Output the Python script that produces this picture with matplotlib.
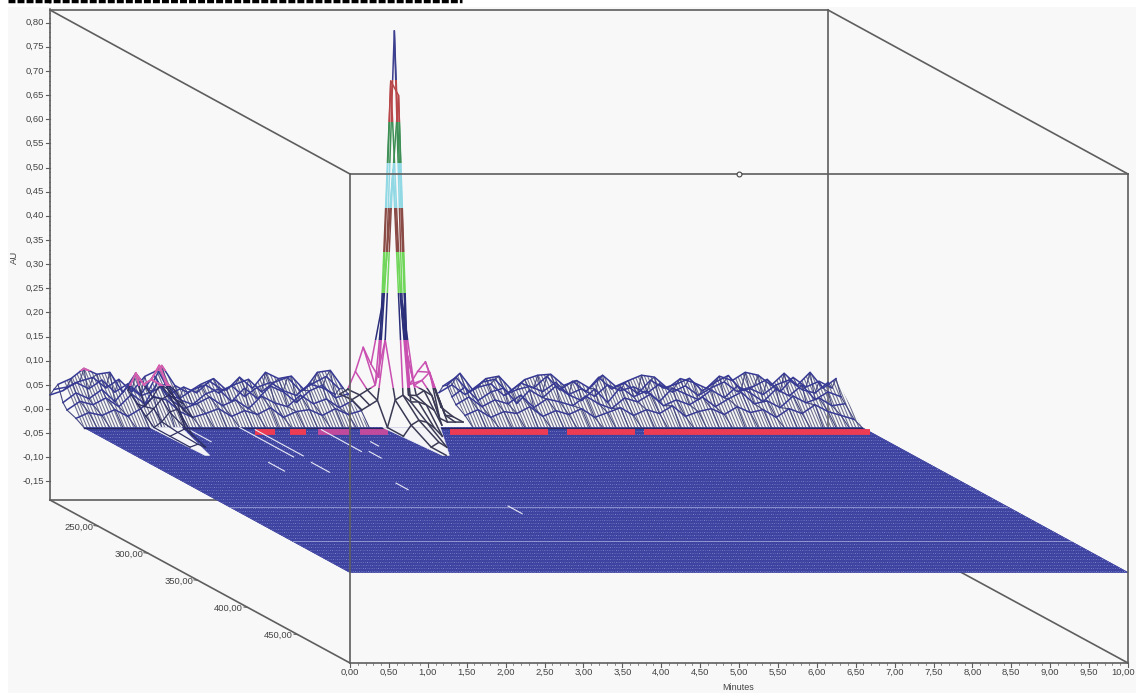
import numpy as np
import matplotlib
matplotlib.use("Agg")
import matplotlib.pyplot as plt
from matplotlib.patches import Rectangle, Polygon, PathPatch
from matplotlib.path import Path

plt.rcParams["font.family"] = ["Liberation Sans", "DejaVu Sans"]

nan = float("nan")

# axis ticks
au_ticks = [0.80, 0.75, 0.70, 0.65, 0.60, 0.55, 0.50, 0.45, 0.40, 0.35, 0.30, 0.25,
            0.20, 0.15, 0.10, 0.05, 0.00, -0.05, -0.10, -0.15]
wl_ticks = [250, 300, 350, 400, 450]
time_ticks = [0.5 * i for i in range(21)]

# noise rows of the surface, milli AU, one value per 1/6 min (gap at the main peak)
noise_wl = [202, 206, 210, 215, 219, 228, 236]
noise_times = [i / 6 for i in range(61)]
gap = [nan] * 7
noise_0 = [29, 38, 55, 42, 60, 35, 52, 30, 70, 28, 22, 40, 50, 33, 48, 26, 45, 55, 38, 28, 52, 44, 30] + gap + [
    34, 50, 30, 45, 52, 28, 40, 47, 36, 55, 30, 42, 26, 50, 38, 46, 32, 52, 35, 48,
    28, 44, 56, 36, 42, 30, 50, 60, 40, 33, 55]
noise_1 = [45, 50, 62, 70, 48, 66, 40, 72, 85, 36, 50, 38, 62, 44, 56, 66, 40, 60, 70, 42, 58, 72, 46] + gap + [
    52, 70, 40, 60, 66, 38, 58, 48, 72, 44, 62, 40, 70, 46, 58, 36, 64, 48, 56, 68,
    42, 60, 74, 44, 52, 66, 40, 70, 50, 62, 48]
noise_2 = [60, 72, 93, 81, 85, 43, 83, 48, 99, 58, 43, 60, 72, 48, 75, 52, 85, 72, 77, 48, 85, 89, 52] + gap + [
    58, 83, 48, 72, 77, 48, 70, 79, 81, 58, 68, 52, 79, 56, 68, 79, 75, 52, 72, 64,
    52, 77, 68, 85, 79, 58, 83, 58, 85, 52, 72]
noise_3 = [28, 48, 36, 55, 30, 62, 42, 52, 68, 34, 24, 46, 56, 30, 58, 36, 62, 50, 28, 52, 64, 38, 46] + gap + [
    40, 60, 32, 50, 58, 26, 54, 38, 62, 44, 32, 56, 28, 60, 40, 52, 30, 58, 46, 34,
    54, 38, 62, 48, 30, 56, 42, 64, 34, 50, 40]
noise_4 = [17, 35, 28, 42, 24, 50, 30, 75, 38, 20, 30, 44, 26, 38, 20, 46, 32, 24, 48, 30, 40, 22, 36] + gap + [
    28, 44, 24, 38, 30, 48, 22, 40, 34, 26, 46, 30, 20, 42, 34, 50, 26, 38, 28, 44,
    24, 40, 54, 30, 36, 22, 46, 32, 42, 26, 30]
noise_5 = [10, 22, 16, 28, 14, 30, 55, 48, 24, 12, 20, 30, 14, 26, 18, 32, 12, 24, 28, 16, 30, 18, 26] + gap + [
    16, 28, 12, 24, 20, 34, 14, 26, 18, 30, 12, 22, 32, 16, 28, 20, 36, 14, 24, 30,
    18, 34, 22, 28, 12, 30, 20, 38, 24, 16, 8]
noise_6 = [0] * 23 + gap + [0] * 31

# main peak, milli AU
peak_wl = [204, 216, 226, 236, 252, 272, 287]
peak_times = [3.7, 3.8, 3.9, 4.0, 4.1, 4.2, 4.3, 4.4, 4.5, 4.6, 4.7, 4.8, 4.9, 5.0]
peak_0 = [33, 43, 80, 130, 95, 68, 310, 785, 226, 53, 80, 100, 53, 6]
peak_1 = [35, 45, 55, 65, 240, 695, 665, 138, 65, 75, 92, 45, 3, 0]
peak_2 = [25, 35, 45, 170, 522, 253, 56, 55, 65, 55, 8, 0, 0, 0]
peak_3 = [nan, nan, 0, 57, 67, 53, 53, 47, 36, 5, nan, nan, nan, nan]
peak_4 = [nan, nan, 0, 23, 33, 29, 17, 0, nan, nan, nan, nan, nan, nan]
peak_5 = [nan, nan, nan, 0, 10, 0, nan, nan, nan, nan, nan, nan, nan, nan]
peak_6 = [nan, nan, nan, 0, nan, nan, nan, nan, nan, nan, nan, nan, nan, nan]

# small peak near one minute, milli AU
small_wl = [210, 219, 228, 236, 252, 272]
small_times = [0.9, 1.0, 1.1, 1.2, 1.3, 1.4, 1.5]
small_0 = [48, 83, 60, 70, 99, 62, 48]
small_1 = [30, 24, 44, 70, 60, 38, 30]
small_2 = [14, 30, 50, 58, 45, 24, 12]
small_3 = [0, 12, 32, 38, 0, nan, nan]
small_4 = [0, 8, 16, 0, nan, nan, nan]
small_5 = [0, 6, 0, nan, nan, nan, nan]

# pale wedges left on the floor by the peaks: (min, nm)
wedge_main = [(3.84, 236), (4.58, 236), (4.04, 287), (3.95, 287)]
wedge_small = [(0.85, 236), (1.25, 236), (0.96, 287), (0.90, 287)]

# pale streaks on the floor: (min, nm start, nm end)
streaks = [(2.0, 236, 290), (2.15, 240, 288), (1.3, 240, 262), (3.0, 240, 280), (3.35, 262, 270),
           (1.55, 300, 316), (2.1, 300, 318), (3.1, 280, 292), (2.7, 338, 350), (3.6, 380, 394)]
light_rows = [381, 445]

# red floor patches (min start, min end)
red_spans = [(2.1, 2.35), (2.54, 2.75), (4.6, 5.86), (6.1, 6.98), (7.1, 10.0)]
pink_spans = [(2.9, 3.3), (3.45, 3.8)]

# value bands along the peak (screen y top, bottom, colour)
bands = [(0, 80, "#3d3f8f"), (80, 122, "#b8474a"), (122, 163, "#3d8f55"), (163, 208, "#8fd8e4"),
         (208, 252, "#8a4a45"), (252, 293, "#6fd65a"), (293, 340, "#2b2f7a"), (340, 388, "#c94fb0"),
         (388, 470, "#3a3a55")]


def project(t, wl, mau=0):
    # oblique view used by the instrument software
    t, wl, mau = np.broadcast_arrays(np.asarray(t, dtype=float), np.asarray(wl, dtype=float),
                                     np.asarray(mau, dtype=float))
    d = wl - 202
    x = 50 + 77.8 * t + d
    y = 409 + 0.545 * d - 0.483 * mau
    return x, y


fig = plt.figure(figsize=(11.36, 6.93), dpi=100)
ax = fig.add_axes([0, 0, 1, 1])
ax.set_xlim(0, 1136)
ax.set_ylim(693, 0)
ax.axis("off")

ax.add_patch(Rectangle((8, 7), 1128, 686, color="#f8f8f8", lw=0, zorder=0))
# cut off heading at the top edge
ax.plot([8, 462], [1, 1], color="black", lw=2.5, ls=(0, (2, 0.6)), zorder=1)

# box behind the surface
box = "#5e5e5e"
for xs, ys in [([50, 828], [10, 10]), ([50, 50], [10, 500]), ([50, 828], [500, 500]), ([828, 828], [10, 500]),
               ([50, 350], [10, 174]), ([828, 1128], [10, 174]), ([50, 350], [500, 663]), ([828, 1128], [500, 663])]:
    ax.plot(xs, ys, color=box, lw=1.2, zorder=1)

# hatching of the noise skirt, clipped under the top noise row
top_x, top_y = project(noise_times, noise_wl[2], noise_2)
left = ~np.isnan(top_y) & (np.arange(61) < 23)
right = ~np.isnan(top_y) & (np.arange(61) > 29)
verts, codes = [], []
for mask in (left, right):
    bx, by = project(np.array(noise_times)[mask], noise_wl[-1])
    poly = list(zip(top_x[mask], top_y[mask])) + list(zip(bx[::-1], by[::-1]))
    verts += poly + [poly[0]]
    codes += [Path.MOVETO] + [Path.LINETO] * (len(poly) - 1) + [Path.CLOSEPOLY]
clip = PathPatch(Path(verts, codes), transform=ax.transData)
for t in np.arange(0, 10.01, 0.04):
    x0, y0 = project(t, 236, 0)
    x1, y1 = project(t, 202, 130)
    line, = ax.plot([x0, x1], [y0, y1], color="#6f7190", lw=0.8, zorder=2)
    line.set_clip_path(clip)

# noise rows and wires
noise = np.array([noise_0, noise_1, noise_2, noise_3, noise_4, noise_5, noise_6])
for i, wl in enumerate(noise_wl[:-1]):
    xs, ys = project(noise_times, wl, noise[i])
    ax.plot(xs, ys, color="#373a94", lw=1.1, zorder=3)
    # the tallest spikes turn pink
    line, = ax.plot(xs, ys, color="#d860b0", lw=1.4, zorder=3.1)
    line.set_clip_path(Rectangle((0, 350), 200, 21, transform=ax.transData))
for j, t in enumerate(noise_times):
    xs, ys = project(t, noise_wl, noise[:, j])
    ax.plot(xs, ys, color="#45487f", lw=0.8, zorder=2.5)

# blue floor, a dense wire grid at zero absorbance
corners = [project(0, 236), project(10, 236), project(10, 502), project(0, 502)]
ax.add_patch(Polygon(corners, facecolor="#4248a6", edgecolor="#4248a6", lw=0.5, zorder=4))
for wl in np.arange(236, 502.1, 5.5):
    xs, ys = project([0, 10], [wl, wl])
    ax.plot(xs, ys, color="#a6abe4", lw=0.6, ls=(0, (1, 1.6)), zorder=4.1)
for t in np.arange(0, 10.01, 0.04):
    xs, ys = project([t, t], [236, 502])
    ax.plot(xs, ys, color="#3a3e9a", lw=0.4, zorder=4.2)
for wl in light_rows:
    xs, ys = project([0, 10], [wl, wl])
    ax.plot(xs, ys, color="#a9addd", lw=0.5, zorder=4.3)
xs, ys = project([0, 10], [236, 236])
ax.plot(xs, ys, color="#23265f", lw=1.0, zorder=4.4)

# red and pink patches just in front of the noise
for spans, colour in ((red_spans, "#ec3b52"), (pink_spans, "#c24a9c")):
    for a, b in spans:
        xs, ys = project([a, b], [244, 244])
        ax.plot(xs, ys, color=colour, lw=4.2, solid_capstyle="butt", zorder=4.6)

# streaks and peak wedges
for t, a, b in streaks:
    xs, ys = project([t, t], [a, b])
    ax.plot(xs, ys, color="#e8e9f6", lw=0.8, zorder=4.7)
for wedge in (wedge_main, wedge_small):
    pts = [project(t, wl) for t, wl in wedge]
    ax.add_patch(Polygon(pts, facecolor="#f4f4f8", edgecolor="#f4f4f8", lw=0.5, zorder=4.8))

# small peak wires, pink at the apex
small = np.array([small_0, small_1, small_2, small_3, small_4, small_5])
small_lines = [project(small_times, small_wl[i], small[i]) for i in range(len(small_wl))]
small_lines += [project(t, small_wl, small[:, j]) for j, t in enumerate(small_times)]
for xs, ys in small_lines:
    ax.plot(xs, ys, color="#2e2f60", lw=0.9, zorder=4.9)
    line, = ax.plot(xs, ys, color="#d860b0", lw=1.4, zorder=4.95)
    line.set_clip_path(Rectangle((0, 350), 200, 36, transform=ax.transData))

# main peak: rows and wires coloured by band
peak = np.array([peak_0, peak_1, peak_2, peak_3, peak_4, peak_5, peak_6])
lines = [project(peak_times, peak_wl[i], peak[i]) for i in range(len(peak_wl))]
lines += [project(t, peak_wl, peak[:, j]) for j, t in enumerate(peak_times)]
for top, bottom, colour in bands:
    for xs, ys in lines:
        line, = ax.plot(xs, ys, color=colour, lw=1.1, zorder=5)
        line.set_clip_path(Rectangle((330, top), 140, bottom - top, transform=ax.transData))

# box in front of the surface
for xs, ys in [([350, 1128], [174, 174]), ([350, 350], [174, 663]), ([1128, 1128], [174, 663]),
               ([350, 1128], [663, 663])]:
    ax.plot(xs, ys, color=box, lw=1.2, zorder=6)
ax.plot([739], [174], marker="o", ms=3.5, mfc="#f8f8f8", mec="#444444", mew=0.8, zorder=7)

# ticks and labels
text = "#444444"
for v in au_ticks:
    y = project(0, 202, v * 1000)[1]
    ax.plot([46, 50], [y, y], color=box, lw=0.8, zorder=6)
    label = f"{abs(v):.2f}".replace(".", ",")
    if v < 0 or v == 0:
        label = "-" + label
    ax.text(44, y, label, ha="right", va="center", fontsize=6.8, color=text)
for i in range(-1, 19):
    for k in range(1, 5):
        y = project(0, 202, (i * 0.05 + k * 0.01) * 1000)[1]
        ax.plot([48.5, 50], [y, y], color=box, lw=0.5, zorder=6)
ax.text(14, 257, "AU", rotation=90, ha="center", va="center", fontsize=6.8, color=text)

for wl in wl_ticks:
    x, y = 50 + (wl - 202), 500 + (wl - 202) * 0.543
    ax.plot([x - 4, x], [y - 0.5, y], color=box, lw=0.8, zorder=6)
    ax.text(x - 5, y + 1, f"{wl},00", ha="right", va="center", fontsize=6.8, color=text)

for t in time_ticks:
    x = 350 + 77.8 * t
    ax.plot([x, x], [663, 667], color=box, lw=0.8, zorder=6)
    label = f"{t:.2f}".replace(".", ",")
    if t == 10:
        ax.text(1135, 672.5, label, ha="right", va="center", fontsize=6.8, color=text)
    else:
        ax.text(x, 672.5, label, ha="center", va="center", fontsize=6.8, color=text)
for t in np.arange(0, 10.01, 0.1):
    x = 350 + 77.8 * t
    ax.plot([x, x], [663, 665], color=box, lw=0.5, zorder=6)
ax.text(738, 688, "Minutes", ha="center", va="center", fontsize=6.5, color=text)

fig.savefig("out.png", dpi=100)
